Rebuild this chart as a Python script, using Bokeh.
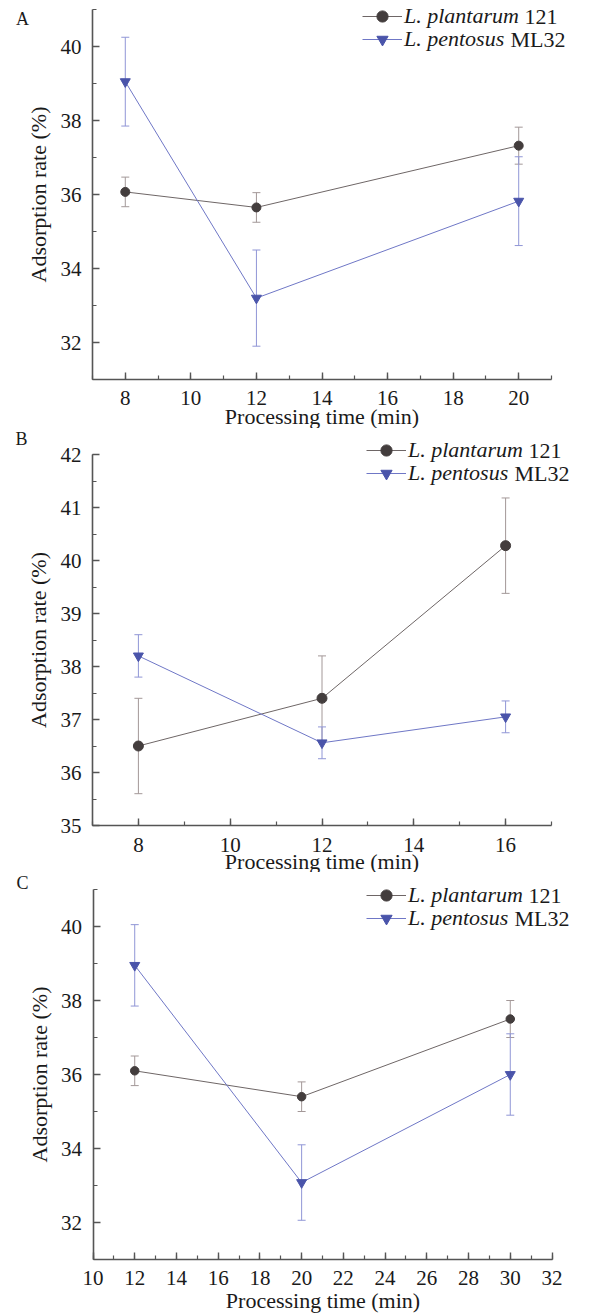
from bokeh.plotting import figure
from bokeh.models import (Range1d, SingleIntervalTicker, ColumnDataSource, Whisker,
                          TeeHead, Legend, LegendItem, Label)
from bokeh.layouts import column
from bokeh.embed import file_html
from bokeh.resources import INLINE

FONT = "Liberation Serif"

# ---------------- data ----------------
a_time = [8, 12, 20]
a_plant = [36.07, 35.65, 37.32]
a_plant_sd = [0.40, 0.40, 0.50]
a_pent = [39.05, 33.20, 35.82]
a_pent_sd = [1.20, 1.30, 1.20]

b_time = [8, 12, 16]
b_plant = [36.50, 37.40, 40.28]
b_plant_sd = [0.90, 0.80, 0.90]
b_pent = [38.20, 36.56, 37.05]
b_pent_sd = [0.40, 0.30, 0.30]

c_time = [12, 20, 30]
c_plant = [36.10, 35.40, 37.50]
c_plant_sd = [0.40, 0.40, 0.50]
c_pent = [38.95, 33.08, 36.00]
c_pent_sd = [1.10, 1.02, 1.10]

series_names = ["L. plantarum", "L. pentosus"]
series_suffix = ["121", "ML32"]
panel_letters = ["A", "B", "C"]
x_label = "Processing time (min)"
y_label = "Adsorption rate (%)"

# ---------------- styles ----------------
PLANT_MARK = "#433d3d"
PLANT_LINE = "#6e6666"
PLANT_ERR = "#a39898"
PENT_MARK = "#4a54aa"
PENT_LINE = "#6f77c6"
PENT_ERR = "#9096d6"
AXIS_COL = "#555555"
TXT = "#1a1a1a"
W = 590
ROW_H = 28


def make_panel(letter, times, plant, plant_sd, pent, pent_sd, xb, yb, yint,
               H, px0, px1, py_top, py_bot, leg_x, row_cy, letter_xy, plant_size,
               suffix_dx, xtick_standoff, xlab_standoff):
    # map axis bounds to pixel positions inside a frame that fills the figure
    sx = (px1 - px0) / (xb[1] - xb[0])
    sy = (py_bot - py_top) / (yb[1] - yb[0])
    xr = Range1d(xb[0] - px0 / sx, xb[1] + (W - px1) / sx)
    yr = Range1d(yb[0] - (H - py_bot) / sy, yb[1] + py_top / sy)

    p = figure(width=W, height=H, output_backend="svg", toolbar_location=None,
               x_range=xr, y_range=yr,
               min_border_left=0, min_border_right=0,
               min_border_top=0, min_border_bottom=0)
    p.outline_line_color = None
    p.xgrid.visible = False
    p.ygrid.visible = False
    p.background_fill_color = "white"

    p.xaxis.ticker = SingleIntervalTicker(interval=2, num_minor_ticks=2)
    p.yaxis.ticker = SingleIntervalTicker(interval=yint, num_minor_ticks=2)
    p.xaxis.fixed_location = yb[0]
    p.xaxis.bounds = xb
    p.yaxis.fixed_location = xb[0]
    p.yaxis.bounds = yb
    for ax in (p.xaxis, p.yaxis):
        ax.axis_line_color = AXIS_COL
        ax.axis_line_width = 1.6
        ax.major_tick_line_color = AXIS_COL
        ax.minor_tick_line_color = AXIS_COL
        ax.major_tick_line_width = 1.4
        ax.minor_tick_line_width = 1.2
        ax.major_tick_in = 7
        ax.major_tick_out = 0
        ax.minor_tick_in = 4
        ax.minor_tick_out = 0
        ax.major_label_text_font = FONT
        ax.major_label_text_font_size = "21px"
        ax.major_label_text_color = TXT
        ax.axis_label_text_font = FONT
        ax.axis_label_text_font_size = "22px"
        ax.axis_label_text_font_style = "normal"
        ax.axis_label_text_color = TXT
    p.xaxis.axis_label = x_label
    p.yaxis.axis_label = y_label
    p.xaxis.major_label_standoff = xtick_standoff
    p.xaxis.axis_label_standoff = xlab_standoff
    p.yaxis.major_label_standoff = 11
    p.yaxis.axis_label_standoff = 7

    src_pl = ColumnDataSource(dict(x=times, y=plant,
                                   lo=[v - e for v, e in zip(plant, plant_sd)],
                                   hi=[v + e for v, e in zip(plant, plant_sd)]))
    src_pe = ColumnDataSource(dict(x=times, y=pent,
                                   lo=[v - e for v, e in zip(pent, pent_sd)],
                                   hi=[v + e for v, e in zip(pent, pent_sd)]))

    for src, col in ((src_pl, PLANT_ERR), (src_pe, PENT_ERR)):
        w = Whisker(source=src, base="x", lower="lo", upper="hi", dimension="height",
                    line_color=col, line_width=1,
                    upper_head=TeeHead(size=8, line_color=col, line_width=1),
                    lower_head=TeeHead(size=8, line_color=col, line_width=1))
        p.add_layout(w)

    l1 = p.line("x", "y", source=src_pl, line_color=PLANT_LINE, line_width=1)
    m1 = p.scatter("x", "y", source=src_pl, marker="circle", size=plant_size,
                   fill_color=PLANT_MARK, line_color=PLANT_MARK)
    l2 = p.line("x", "y", source=src_pe, line_color=PENT_LINE, line_width=1)
    m2 = p.scatter("x", "y", source=src_pe, marker="inverted_triangle", size=10,
                   fill_color=PENT_MARK, line_color=PENT_MARK)

    for i, rends in enumerate(([l1, m1], [l2, m2])):
        lg = Legend(items=[LegendItem(label=series_names[i], renderers=rends)],
                    location=(leg_x, H - row_cy[i] - ROW_H / 2), padding=0, margin=0,
                    spacing=0, glyph_width=40, glyph_height=ROW_H, label_height=ROW_H,
                    label_standoff=2, label_text_font=FONT,
                    label_text_font_style="italic", label_text_font_size="22px",
                    label_text_color=TXT, background_fill_alpha=0, border_line_alpha=0)
        p.add_layout(lg)
        p.add_layout(Label(x=leg_x + 42 + suffix_dx[i], y=H - row_cy[i],
                           x_units="screen", y_units="screen", text=series_suffix[i],
                           text_font=FONT, text_font_size="22px", text_color=TXT,
                           text_baseline="middle", text_align="left"))

    p.add_layout(Label(x=letter_xy[0], y=H - letter_xy[1], x_units="screen",
                       y_units="screen", text=letter, text_font=FONT,
                       text_font_size="18px", text_color=TXT,
                       text_baseline="middle", text_align="center"))
    return p


# panel A occupies page rows 0-428, B 428-872, C 872-1316
pA = make_panel(panel_letters[0], a_time, a_plant, a_plant_sd, a_pent, a_pent_sd,
                (7, 21), (31, 41), 2, 428, 92, 551, 9, 379, 362, (16, 39), (22, 18),
                9, (120, 106), 11, -4)
pB = make_panel(panel_letters[1], b_time, b_plant, b_plant_sd, b_pent, b_pent_sd,
                (7, 17), (35, 42), 1, 444, 92, 551, 26, 397, 366, (22, 45), (21, 10.5),
                10, (120, 106), 12, -6)
pC = make_panel(panel_letters[2], c_time, c_plant, c_plant_sd, c_pent, c_pent_sd,
                (10, 32), (31, 41), 2, 444, 92.5, 551.5, 17, 387, 366, (23, 46), (22, 10),
                8.5, (120, 106), 11, 0)

layout = column(pA, pB, pC, spacing=0)
open("out.html", "w").write(file_html(layout, INLINE))
